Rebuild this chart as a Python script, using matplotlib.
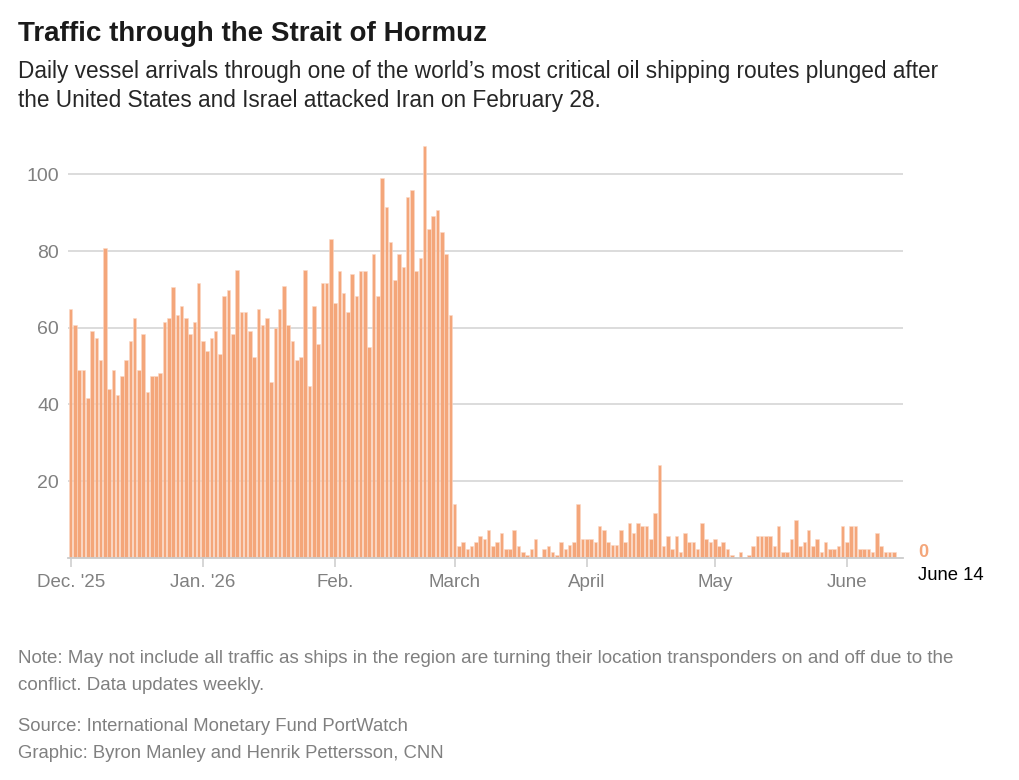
import numpy as np
import pandas as pd
import matplotlib
matplotlib.use("Agg")
import matplotlib.pyplot as plt

plt.rcParams['font.family'] = ['Liberation Sans', 'DejaVu Sans']

# daily vessel arrivals, Dec 1 2025 .. Jun 14 2026
arrivals = [
    64.9, 60.7, 49.0, 49.0, 41.6, 59.1, 57.4, 51.6, 80.7, 44.0,
    49.0, 42.4, 47.4, 51.6, 56.5, 62.4, 49.0, 58.3, 43.1, 47.4,
    47.4, 48.1, 61.6, 62.4, 70.7, 63.3, 65.7, 62.4, 58.3, 61.6,
    71.6, 56.5, 54.0, 57.4, 59.1, 53.2, 68.3, 69.9, 58.3, 75.0,
    64.1, 64.1, 59.1, 52.4, 64.9, 60.7, 62.4, 45.8, 59.9, 64.9,
    70.8, 60.7, 56.5, 51.6, 52.4, 75.0, 44.9, 65.7, 55.8, 71.6,
    71.6, 83.2, 66.5, 74.9, 69.1, 64.0, 74.0, 68.3, 74.9, 74.9,
    54.9, 79.1, 68.3, 99.1, 91.6, 82.4, 72.4, 79.1, 75.8, 94.1,
    95.8, 74.9, 78.2, 107.4, 85.8, 89.1, 90.7, 84.9, 79.1, 63.2,
    14.0, 3.1, 4.0, 2.3, 3.1, 4.0, 5.7, 4.8, 7.3, 3.1,
    4.0, 6.4, 2.3, 2.3, 7.3, 3.1, 1.5, 0.6, 2.3, 4.8,
    0.0, 2.3, 3.1, 1.5, 0.6, 4.0, 2.3, 3.2, 4.0, 14.0,
    4.8, 4.8, 4.8, 4.0, 8.2, 7.3, 4.0, 3.2, 3.2, 7.3,
    4.0, 9.0, 6.5, 9.0, 8.2, 8.2, 4.8, 11.6, 24.1, 3.1,
    5.7, 2.3, 5.7, 1.5, 6.4, 4.0, 4.0, 2.3, 9.0, 4.8,
    4.0, 4.8, 3.1, 4.0, 2.3, 0.6, 0.0, 1.5, 0.0, 0.6,
    3.1, 5.7, 5.7, 5.7, 5.7, 3.1, 8.2, 1.5, 1.5, 4.8,
    9.8, 3.1, 4.0, 7.3, 3.1, 4.8, 1.5, 4.0, 2.3, 2.3,
    3.1, 8.2, 4.0, 8.2, 8.2, 2.3, 2.3, 2.3, 1.5, 6.4,
    3.1, 1.5, 1.5, 1.5, 0.0, 0.0,
]
dates = pd.date_range("2025-12-01", "2026-06-14", freq="D")

tick_dates = pd.to_datetime(["2025-12-01", "2026-01-01", "2026-02-01", "2026-03-01",
                             "2026-04-01", "2026-05-01", "2026-06-01"])
tick_labels = ["Dec. '25", "Jan. '26", "Feb.", "March", "April", "May", "June"]
y_ticks = [20, 40, 60, 80, 100]

title = "Traffic through the Strait of Hormuz"
subtitle = ["Daily vessel arrivals through one of the world\u2019s most critical oil shipping routes plunged after",
            "the United States and Israel attacked Iran on February 28."]
note = ["Note: May not include all traffic as ships in the region are turning their location transponders on and off due to the",
        "conflict. Data updates weekly."]
source = ["Source: International Monetary Fund PortWatch",
          "Graphic: Byron Manley and Henrik Pettersson, CNN"]

W, H = 1019, 780
bar_color = "#F4A67A"
grey = "#808080"

fig = plt.figure(figsize=(W / 100, H / 100), dpi=100)
fig.patch.set_facecolor("white")

# axes placed in pixel coords
left, right, top, bottom = 68, 903, 136, 557.7
ax = fig.add_axes([left / W, 1 - bottom / H, (right - left) / W, (bottom - top) / H])

x = dates.values
ax.bar(x, arrivals, width=pd.Timedelta(hours=20), color=bar_color,
       edgecolor="#FBD9C6", linewidth=0.4, zorder=3)

day = pd.Timedelta(days=1)
ax.set_xlim(dates[0] - 0.63 * day, dates[-1] + 0.14 * day)
ax.set_ylim(0, 110)

ax.set_yticks(y_ticks)
ax.set_yticklabels([str(v) for v in y_ticks])
ax.yaxis.grid(True, color="#D9D9D9", linewidth=1.3, zorder=0)
ax.tick_params(axis="y", length=0, pad=6.5, labelsize=14, labelcolor=grey)

ax.set_xticks(tick_dates)
ax.set_xticklabels(tick_labels)
ax.tick_params(axis="x", length=6.5, width=1.1, color="#CCCCCC", pad=5.5,
               labelsize=13.5, labelcolor=grey)

for s in ["top", "right", "left"]:
    ax.spines[s].set_visible(False)
ax.spines["bottom"].set_color("#CCCCCC")
ax.spines["bottom"].set_linewidth(1.3)
ax.spines["bottom"].set_zorder(4)


def px(xp, yp):
    return xp / W, 1 - yp / H


# latest value label
fig.text(*px(918, 556.7), "0", fontsize=13, fontweight="bold", color=bar_color, va="baseline")
fig.text(*px(918, 580), "June 14", fontsize=13.3, color="black", va="baseline")

fig.text(*px(18, 41), title, fontsize=20, fontweight="bold", color="#1A1A1A", va="baseline")
fig.text(*px(18, 78.3), subtitle[0], fontsize=16.3, color="#262626", va="baseline")
fig.text(*px(18, 106.7), subtitle[1], fontsize=16.3, color="#262626", va="baseline")

fig.text(*px(18, 663), note[0], fontsize=13.5, color=grey, va="baseline")
fig.text(*px(18, 690), note[1], fontsize=13.5, color=grey, va="baseline")
fig.text(*px(18, 731), source[0], fontsize=13.3, color=grey, va="baseline")
fig.text(*px(18, 758), source[1], fontsize=13.3, color=grey, va="baseline")

fig.savefig("out.png", dpi=100, facecolor="white")
